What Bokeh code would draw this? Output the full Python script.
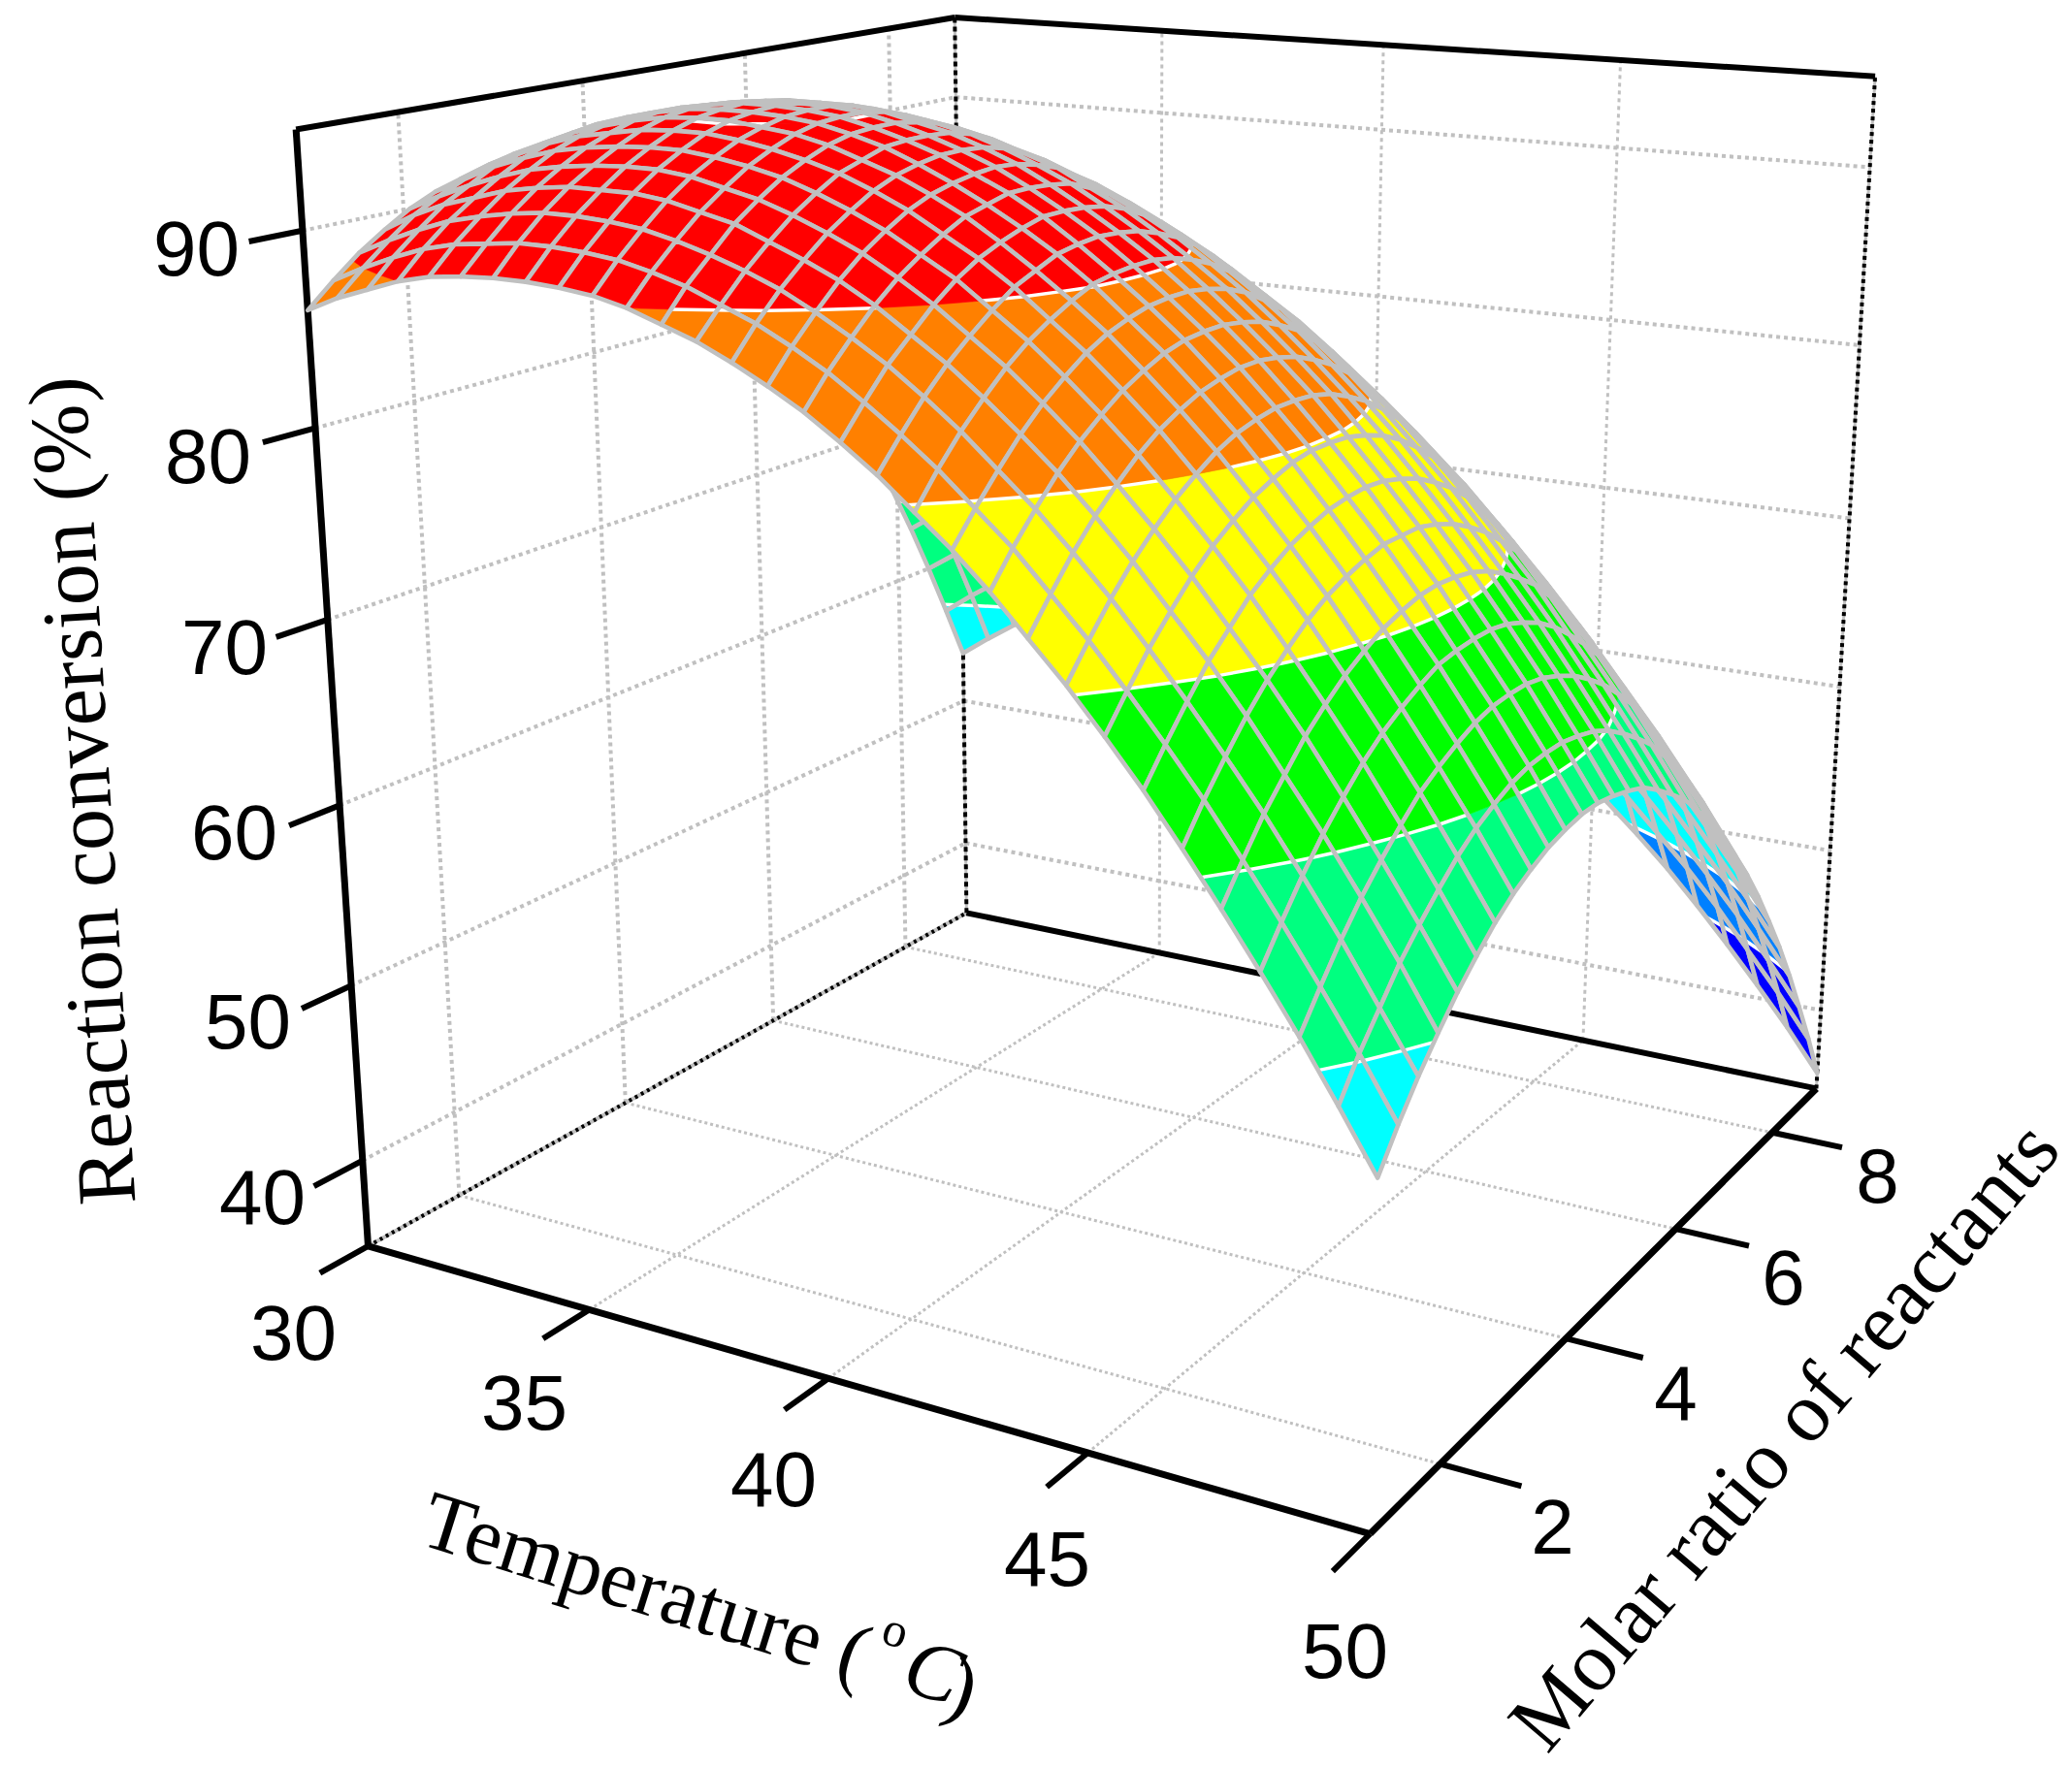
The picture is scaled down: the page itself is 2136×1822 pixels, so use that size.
import numpy as np
from bokeh.plotting import figure
from bokeh.embed import file_html
from bokeh.resources import INLINE
from bokeh.core.properties import value

temperature_ticks=[30,35,40,45,50]
molar_ticks=[2,4,6,8]
conversion_ticks=[40,50,60,70,80,90]
temperature_range=(30,50)
molar_range=(1,9)
conversion_range=(35,95)
band_levels=[44.5,49.5,57.2,65.2,72.7,80.4,88,94.8]
band_colors=["#0000FF","#0080FF","#00FFFF","#00FF80","#00FF00","#FFFF00","#FF8000","#FF0000","#FF0000"]
# reaction conversion (%): one row per temperature step, one column per molar-ratio step
conversion=[
[86.0,87.2,88.3,89.2,90.0,90.6,91.0,91.3,91.4,91.3,91.1,90.7,90.2,89.5,88.7,87.7,86.5,85.2,83.7,82.0,80.2,78.2,76.1,73.8,71.4,68.8,66.0,63.1,60.0,56.7,53.3],
[86.8,88.0,89.1,90.1,90.8,91.4,91.9,92.2,92.3,92.3,92.1,91.7,91.2,90.5,89.7,88.7,87.6,86.2,84.8,83.1,81.3,79.4,77.3,75.0,72.6,70.0,67.2,64.3,61.2,58.0,54.6],
[87.4,88.7,89.8,90.8,91.5,92.2,92.6,92.9,93.1,93.1,92.9,92.6,92.1,91.4,90.6,89.6,88.5,87.2,85.7,84.1,82.4,80.4,78.3,76.1,73.7,71.1,68.3,65.5,62.4,59.2,55.8],
[88.0,89.3,90.4,91.3,92.1,92.8,93.3,93.6,93.8,93.8,93.6,93.3,92.8,92.2,91.4,90.4,89.3,88.0,86.6,85.0,83.2,81.3,79.2,77.0,74.6,72.1,69.3,66.5,63.4,60.2,56.9],
[88.4,89.7,90.8,91.8,92.6,93.3,93.8,94.1,94.3,94.3,94.2,93.9,93.4,92.8,92.0,91.1,90.0,88.7,87.3,85.7,84.0,82.1,80.0,77.8,75.4,72.9,70.2,67.3,64.3,61.1,57.8],
[88.6,89.9,91.1,92.1,92.9,93.6,94.1,94.5,94.7,94.7,94.6,94.3,93.9,93.3,92.5,91.6,90.5,89.3,87.9,86.3,84.6,82.7,80.7,78.5,76.1,73.6,70.9,68.1,65.1,61.9,58.6],
[88.7,90.1,91.3,92.3,93.1,93.8,94.4,94.8,95.0,95.0,94.9,94.7,94.2,93.7,92.9,92.0,90.9,89.7,88.3,86.8,85.1,83.2,81.2,79.0,76.7,74.2,71.5,68.7,65.7,62.6,59.3],
[88.7,90.1,91.3,92.3,93.2,93.9,94.5,94.9,95.1,95.2,95.1,94.9,94.4,93.9,93.2,92.3,91.2,90.0,88.7,87.1,85.4,83.6,81.6,79.4,77.1,74.6,72.0,69.2,66.2,63.1,59.8],
[88.6,90.0,91.2,92.3,93.2,93.9,94.5,94.9,95.1,95.2,95.1,94.9,94.5,94.0,93.3,92.4,91.4,90.2,88.8,87.3,85.7,83.8,81.9,79.7,77.4,74.9,72.3,69.5,66.6,63.5,60.2],
[88.4,89.8,91.0,92.1,93.0,93.7,94.3,94.7,95.0,95.1,95.1,94.9,94.5,94.0,93.3,92.4,91.4,90.2,88.9,87.4,85.8,84.0,82.0,79.9,77.6,75.1,72.5,69.7,66.8,63.7,60.5],
[88.0,89.4,90.6,91.7,92.6,93.4,94.0,94.5,94.8,94.9,94.9,94.7,94.3,93.8,93.1,92.3,91.3,90.1,88.8,87.4,85.7,83.9,82.0,79.9,77.6,75.2,72.6,69.8,66.9,63.8,60.6],
[87.4,88.9,90.1,91.3,92.2,93.0,93.6,94.1,94.4,94.5,94.5,94.3,94.0,93.5,92.9,92.0,91.1,89.9,88.6,87.2,85.6,83.8,81.9,79.8,77.5,75.1,72.5,69.8,66.9,63.8,60.6],
[86.8,88.2,89.5,90.6,91.6,92.4,93.1,93.5,93.9,94.0,94.0,93.9,93.6,93.1,92.4,91.6,90.7,89.6,88.3,86.9,85.3,83.5,81.6,79.5,77.3,74.9,72.3,69.6,66.7,63.7,60.5],
[86.0,87.5,88.8,89.9,90.9,91.7,92.4,92.9,93.2,93.4,93.4,93.3,93.0,92.5,91.9,91.1,90.2,89.1,87.8,86.4,84.8,83.1,81.2,79.1,76.9,74.5,72.0,69.3,66.4,63.4,60.2],
[85.1,86.6,87.9,89.1,90.1,90.9,91.6,92.1,92.4,92.6,92.7,92.6,92.3,91.9,91.2,90.5,89.6,88.5,87.2,85.8,84.3,82.6,80.7,78.6,76.4,74.1,71.6,68.9,66.0,63.0,59.9],
[84.1,85.6,86.9,88.1,89.1,89.9,90.6,91.2,91.5,91.8,91.8,91.7,91.5,91.0,90.4,89.7,88.8,87.7,86.5,85.1,83.6,81.9,80.0,78.0,75.8,73.5,71.0,68.3,65.5,62.5,59.4],
[82.9,84.4,85.8,86.9,88.0,88.9,89.6,90.1,90.5,90.8,90.8,90.7,90.5,90.1,89.5,88.8,87.9,86.9,85.7,84.3,82.8,81.1,79.2,77.2,75.1,72.7,70.3,67.6,64.8,61.8,58.7],
[81.6,83.1,84.5,85.7,86.7,87.6,88.4,88.9,89.4,89.6,89.7,89.6,89.4,89.0,88.5,87.8,86.9,85.9,84.7,83.3,81.8,80.2,78.3,76.3,74.2,71.9,69.4,66.8,64.0,61.0,57.9],
[80.1,81.7,83.1,84.3,85.4,86.3,87.0,87.6,88.1,88.3,88.4,88.4,88.2,87.8,87.3,86.6,85.7,84.7,83.6,82.2,80.7,79.1,77.3,75.3,73.2,70.9,68.4,65.8,63.1,60.1,57.0],
[78.6,80.1,81.5,82.8,83.9,84.8,85.6,86.2,86.6,86.9,87.0,87.0,86.8,86.5,86.0,85.3,84.5,83.5,82.3,81.0,79.5,77.9,76.1,74.1,72.0,69.8,67.3,64.7,62.0,59.1,56.0],
[76.9,78.5,79.9,81.2,82.3,83.2,84.0,84.6,85.1,85.4,85.5,85.5,85.3,85.0,84.5,83.9,83.0,82.1,80.9,79.6,78.2,76.6,74.8,72.9,70.8,68.5,66.1,63.5,60.8,57.9,54.8],
[75.0,76.6,78.1,79.4,80.5,81.5,82.3,82.9,83.4,83.7,83.9,83.9,83.7,83.4,82.9,82.3,81.5,80.5,79.4,78.1,76.7,75.1,73.4,71.4,69.4,67.1,64.7,62.2,59.5,56.6,53.5],
[73.1,74.7,76.2,77.5,78.6,79.6,80.4,81.1,81.6,81.9,82.1,82.1,82.0,81.7,81.2,80.6,79.8,78.9,77.8,76.5,75.1,73.5,71.8,69.9,67.8,65.6,63.2,60.7,58.0,55.1,52.1],
[71.0,72.6,74.1,75.4,76.6,77.6,78.4,79.1,79.6,80.0,80.2,80.2,80.1,79.8,79.4,78.8,78.0,77.1,76.0,74.8,73.4,71.8,70.1,68.2,66.2,64.0,61.6,59.1,56.4,53.6,50.6],
[68.8,70.4,71.9,73.3,74.4,75.5,76.3,77.0,77.5,77.9,78.1,78.2,78.1,77.8,77.4,76.8,76.1,75.2,74.1,72.9,71.5,70.0,68.3,66.4,64.4,62.2,59.8,57.3,54.7,51.9,48.9],
[66.4,68.1,69.6,71.0,72.2,73.2,74.1,74.8,75.3,75.7,76.0,76.0,76.0,75.7,75.3,74.7,74.0,73.1,72.1,70.9,69.5,68.0,66.3,64.5,62.5,60.3,58.0,55.5,52.8,50.0,47.1],
[63.9,65.6,67.2,68.5,69.8,70.8,71.7,72.4,73.0,73.4,73.7,73.8,73.7,73.5,73.1,72.5,71.8,71.0,69.9,68.7,67.4,65.9,64.2,62.4,60.4,58.3,55.9,53.5,50.8,48.1,45.1],
[61.3,63.0,64.6,66.0,67.2,68.3,69.2,69.9,70.5,71.0,71.2,71.3,71.3,71.1,70.7,70.2,69.5,68.6,67.6,66.5,65.1,63.6,62.0,60.2,58.2,56.1,53.8,51.3,48.7,46.0,43.0],
[58.6,60.3,61.9,63.3,64.5,65.6,66.6,67.3,67.9,68.4,68.7,68.8,68.8,68.6,68.2,67.7,67.0,66.2,65.2,64.1,62.7,61.3,59.6,57.8,55.9,53.8,51.5,49.1,46.5,43.7,40.8],
[55.7,57.5,59.0,60.5,61.7,62.8,63.8,64.6,65.2,65.7,66.0,66.1,66.1,65.9,65.6,65.1,64.4,63.6,62.7,61.5,60.2,58.8,57.2,55.4,53.4,51.4,49.1,46.7,44.1,41.4,38.5],
[52.7,54.5,56.1,57.5,58.8,59.9,60.9,61.7,62.3,62.8,63.1,63.3,63.3,63.1,62.8,62.4,61.7,60.9,60.0,58.8,57.6,56.1,54.5,52.8,50.9,48.8,46.6,44.2,41.6,38.9,36.0],
]

NT=len(conversion)-1
NM=len(conversion[0])-1
t_of=lambda T:(T-temperature_range[0])/(temperature_range[1]-temperature_range[0])
m_of=lambda M:(M-molar_range[0])/(molar_range[1]-molar_range[0])
z0,z1=conversion_range

# camera of the 3-D box: fitted to where the box corners and ticks fall on the page
ref3=[(0,0,35),(1,0,35),(1,1,35),(0,1,35),(0,0,95),(0,1,95),(1,1,95),(0,0,90),(0,0,40),
(.25,0,35),(.5,0,35),(.75,0,35),(1,.125,35),(1,.375,35),(1,.625,35),(1,.875,35)]
ref2=[(380,1285),(1409,1581),(1871,1124),(994,940),(305,132),(985,18),(1932,78),(310,238),(373,1195),
(608,1350),(855,1423),(1120,1498),(1484,1508),(1615,1379),(1728,1265),(1828,1167)]
A=[];b=[]
for (t,m,z),(u,v) in zip(ref3,ref2):
    zn=(z-z0)/(z1-z0)
    A.append([t,m,zn,1,0,0,0,0,-u*t,-u*m,-u*zn]);b.append(u)
    A.append([0,0,0,0,t,m,zn,1,-v*t,-v*m,-v*zn]);b.append(v)
s=np.linalg.lstsq(np.array(A,float),np.array(b,float),rcond=None)[0]
P=np.array([s[:4],s[4:8],[s[8],s[9],s[10],1.0]])
def proj(t,m,z):
    h=P@np.array([t,m,(z-z0)/(z1-z0),1.0])
    return h[0]/h[2],h[1]/h[2],abs(h[2])

p=figure(width=2128,height=1814,x_range=(0,2128),y_range=(1814,0),output_backend="svg",toolbar_location=None,min_border=0)
p.axis.visible=False;p.grid.visible=False;p.outline_line_color=None

def seg(a,b,**k):
    x0,y0,_=proj(*a);x1,y1,_=proj(*b)
    p.line([x0,x1],[y0,y1],**k)
G="#C0C0C0";K="#000000"
T_t=[t_of(v) for v in temperature_ticks];M_t=[m_of(v) for v in molar_ticks]
for t in T_t[1:]:
    seg((t,0,z0),(t,1,z0),line_color=G,line_width=3,line_dash="3 3")
    seg((t,1,z0),(t,1,z1),line_color=G,line_width=3,line_dash="4 4")
for m in M_t:
    seg((0,m,z0),(1,m,z0),line_color=G,line_width=3,line_dash="3 3")
    seg((0,m,z0),(0,m,z1),line_color=G,line_width=4,line_dash="4 4")
for z in conversion_ticks:
    seg((0,0,z),(0,1,z),line_color=G,line_width=4,line_dash="4 4")
    seg((0,1,z),(1,1,z),line_color=G,line_width=4,line_dash="4 4")
seg((0,0,z0),(0,1,z0),line_color=G,line_width=4)
seg((0,0,z0),(0,1,z0),line_color=K,line_width=4,line_dash="3 4")
seg((0,1,z0),(0,1,z1),line_color=G,line_width=3)
seg((0,1,z0),(0,1,z1),line_color=K,line_width=4,line_dash="5 4")
seg((1,1,z0),(1,1,z1),line_color=G,line_width=3)
seg((1,1,z0),(1,1,z1),line_color=K,line_width=4,line_dash="4 4")
seg((0,1,z0),(1,1,z0),line_color=K,line_width=6)
seg((0,1,z1),(1,1,z1),line_color=K,line_width=6)
seg((0,0,z1),(0,1,z1),line_color=K,line_width=6)
seg((0,0,z0),(0,0,z1),line_color=K,line_width=7)
seg((0,0,z0),(1,0,z0),line_color=K,line_width=7)
seg((1,0,z0),(1,1,z0),line_color=K,line_width=7)
for t in T_t:
    seg((t,0,z0),(t,-.063,z0),line_color=K,line_width=6)
for m in M_t:
    seg((1,m,z0),(1.07,m,z0),line_color=K,line_width=6)
for z in conversion_ticks:
    seg((0,0,z),(0,-.063,z),line_color=K,line_width=6)

xs=[];ys=[];fc=[];fa=[];lc=[];la=[];lw=[]
def clip(poly,keep,lev):
    out=[];n=len(poly)
    for k in range(n):
        a=poly[k];c=poly[(k+1)%n]
        ka=keep(a[2]);kc=keep(c[2])
        if ka: out.append(a)
        if ka!=kc:
            f=(lev-a[2])/(c[2]-a[2])
            out.append((a[0]+f*(c[0]-a[0]),a[1]+f*(c[1]-a[1]),lev))
    return out
def band(poly,lo,hi):
    q=poly
    if lo is not None: q=clip(q,lambda z:z>=lo,lo)
    if q and hi is not None: q=clip(q,lambda z:z<=hi,hi)
    return q
cells=[]
for i in range(NT):
    for j in range(NM):
        q=[(i/NT,j/NM,conversion[i][j]),((i+1)/NT,j/NM,conversion[i+1][j]),((i+1)/NT,(j+1)/NM,conversion[i+1][j+1]),(i/NT,(j+1)/NM,conversion[i][j+1])]
        cells.append((np.mean([proj(*c)[2] for c in q]),q))
cells.sort(key=lambda c:-c[0])
bounds=[None]+band_levels+[None]
for d,q in cells:
    for k,col in enumerate(band_colors):
        r=band(q,bounds[k],bounds[k+1])
        if len(r)>=3:
            pts=[proj(*c) for c in r]
            xs.append([c[0] for c in pts]);ys.append([c[1] for c in pts]);fc.append(col);fa.append(1.0);lc.append(col);la.append(1.0);lw.append(.6)
    for lev in band_levels:
        cr=[]
        for k in range(4):
            a=q[k];c=q[(k+1)%4]
            if (a[2]-lev)*(c[2]-lev)<0:
                f=(lev-a[2])/(c[2]-a[2])
                cr.append(proj(a[0]+f*(c[0]-a[0]),a[1]+f*(c[1]-a[1]),lev))
        for k in range(0,len(cr)-1,2):
            xs.append([cr[k][0],cr[k+1][0]]);ys.append([cr[k][1],cr[k+1][1]]);fc.append("#FFFFFF");fa.append(0.0);lc.append("#FFFFFF");la.append(1.0);lw.append(3.5)
    pts=[proj(*c) for c in q]
    xs.append([c[0] for c in pts]);ys.append([c[1] for c in pts]);fc.append("#FFFFFF");fa.append(0.0);lc.append(G);la.append(1.0);lw.append(4.6)
p.patches(xs=xs,ys=ys,fill_color=fc,fill_alpha=fa,line_color=lc,line_alpha=la,line_width=lw,line_join="round")

SANS=value("Liberation Sans");SERIF=value("Liberation Serif")
lx=[202,214,231,241,255,270, 302,540,797,1079,1386, 1600,1727,1838,1935]
ly=[256,470,667,858,1053,1234, 1374,1446,1525,1607,1702, 1574,1436,1317,1212]
lt=[str(v) for v in conversion_ticks[::-1]]+[str(v) for v in temperature_ticks]+[str(v) for v in molar_ticks]
p.text(x=lx,y=ly,text=lt,text_font=SANS,text_font_size="80px",text_align="center",text_baseline="middle",text_color=K)
r=np.pi/180
def tx(s,x,y,ang,size,style="normal",font=SERIF):
    p.text(x=[x],y=[y],text=[s],angle=[ang*r],text_font=font,text_font_size=size,text_font_style=style,text_align="center",text_baseline="middle",text_color=K)
tx("Reaction conversion (%)",84,815,93.5,"86px")
tx("Molar ratio of reactants",1838,1479,49.5,"87px")
p.text(x=[438],y=[1563],text=["Temperature ("],angle=[-17.5*r],text_font=SERIF,text_font_size="85px",text_align="left",text_baseline="alphabetic",text_color=K)
tx("o",923,1680,-17.5,"50px")
tx("C",962,1722,-17.5,"85px","italic")
tx(")",992,1738,-17.5,"85px")
open("out.html","w").write(file_html(p,INLINE))
